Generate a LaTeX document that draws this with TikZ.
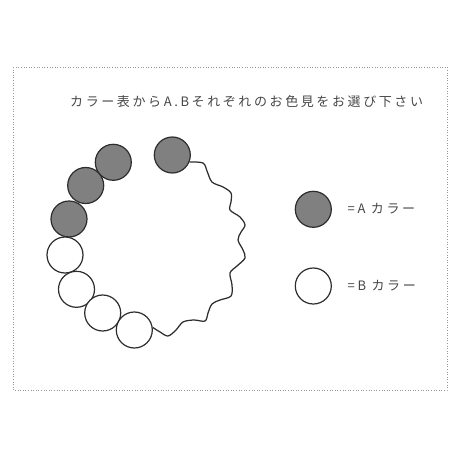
\documentclass[tikz,border=0pt]{standalone}
\usepackage{fontspec}
\newfontfamily\jp[LetterSpace=20]{Noto Sans CJK JP}
\usetikzlibrary{calc}
\definecolor{fillA}{RGB}{128,128,128}
\definecolor{strokeC}{RGB}{45,45,45}
\definecolor{txtC}{RGB}{70,70,70}
\definecolor{frameC}{RGB}{150,150,150}
\tikzset{
  bead/.style={circle, draw=strokeC, line width=1.2pt, minimum size=36pt, inner sep=0pt},
  acirc/.style={bead, fill=fillA},
  bcirc/.style={bead, fill=white},
  lbl/.style={font=\jp\fontsize{13}{15}\selectfont, text=txtC, inner sep=0pt},
  wave/.style={draw=strokeC, line width=1.25pt},
}
\begin{document}
\begin{tikzpicture}[x=1pt,y=-1pt]
\useasboundingbox (0,0) rectangle (460,460);
\draw[frameC, dotted, line width=0.6pt] (13,67) rectangle (447,390);
\node[lbl, anchor=west] (title) at (70,101.5) {カラー表からA.Bそれぞれのお色見をお選び下さい};
% beads
\node[acirc] (a1) at (172.3,155) {};
\node[acirc] (a2) at (113.3,162.3) {};
\node[acirc] (a3) at (85.7,185.5) {};
\node[acirc] (a4) at (69,219) {};
\node[bcirc] (b1) at (65,255) {};
\node[bcirc] (b2) at (76.5,289.3) {};
\node[bcirc] (b3) at (102.7,313) {};
\node[bcirc] (b4) at (134.3,330) {};
% wave
\coordinate (ws) at (a1.-22);
\coordinate (we) at (b4.8);
\draw[wave] plot[smooth, tension=0.55] coordinates {(ws) (203,163) (207,171) (212,182) (223,187) (231,193) (231,202) (230,210) (240,217) (245,225) (241,232) (238,240) (243,250) (245,258) (237,266) (230,273) (232,285) (231,296) (220,300) (212,304) (208,313) (205,321) (194,320) (183,322) (176,330) (168,336) (160,332) (we)};
% legend
\node[acirc] (la) at (313.3,209.3) {};
\node[bcirc] (lb) at (313.3,286) {};
\node[lbl, anchor=west] (ta) at (347.5,209) {=A カラー};
\node[lbl, anchor=west] (tb) at (347.5,286) {=B カラー};
\end{tikzpicture}
\end{document}
